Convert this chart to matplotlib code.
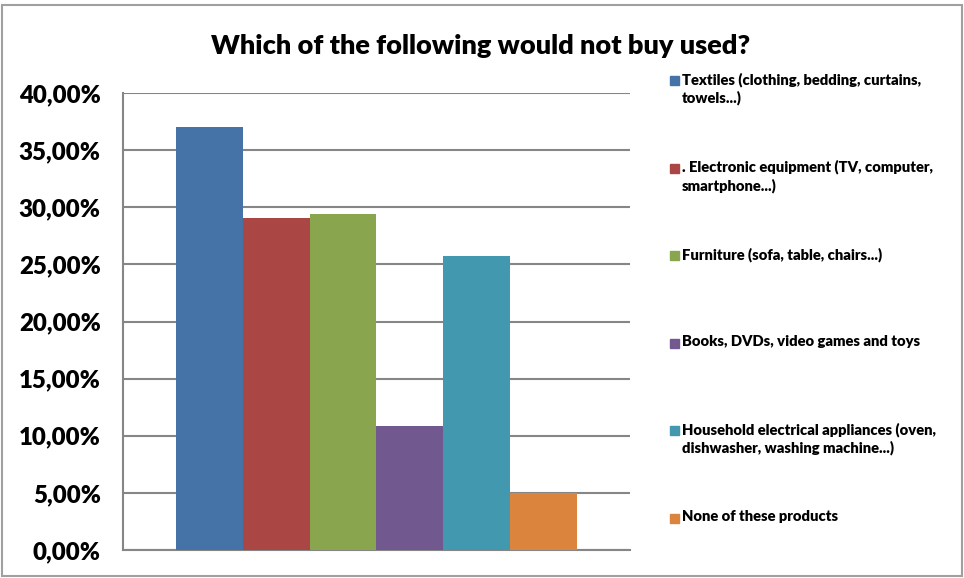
import matplotlib
matplotlib.use("Agg")
import matplotlib.pyplot as plt
from matplotlib.patches import Rectangle
from matplotlib.ticker import FuncFormatter

# data
categories = [
    "Textiles (clothing, bedding, curtains,\ntowels...)",
    ". Electronic equipment (TV, computer,\nsmartphone...)",
    "Furniture (sofa, table, chairs...)",
    "Books, DVDs, video games and toys",
    "Household electrical appliances (oven,\ndishwasher, washing machine...)",
    "None of these products",
]
values = [37.0, 29.1, 29.4, 10.9, 25.7, 5.0]
colors = ["#4572A7", "#AA4643", "#89A54E", "#71588F", "#4198AF", "#DB843D"]
y_ticks = [0, 5, 10, 15, 20, 25, 30, 35, 40]

WEIGHT = "heavy"
plt.rcParams["font.family"] = ["Lato", "DejaVu Sans"]
plt.rcParams["font.weight"] = WEIGHT

fig = plt.figure(figsize=(9.64, 5.78), dpi=100)
ax = fig.add_axes([0.1276, 0.0484, 0.5259, 0.7906])

# bars sit side by side around the centre of a single category slot
bar_w = 0.132
start = 0.5 - bar_w * len(values) / 2
for i, (v, c) in enumerate(zip(values, colors)):
    ax.bar(start + bar_w * (i + 0.5), v, width=bar_w, color=c, zorder=3)

ax.set_xlim(0, 1)
ax.set_ylim(0, 40)
ax.set_yticks(y_ticks)
ax.yaxis.set_major_formatter(FuncFormatter(lambda v, _: f"{v:.2f}%".replace(".", ",")))
ax.set_xticks([])
ax.tick_params(axis="y", length=0, pad=16, labelsize=17.3)
for lbl in ax.get_yticklabels():
    lbl.set_fontweight(WEIGHT)
ax.grid(axis="y", color="#868686", linewidth=1.5, zorder=0)
ax.spines["top"].set_visible(False)
ax.spines["right"].set_visible(False)
for s in ("left", "bottom"):
    ax.spines[s].set_color("#868686")
    ax.spines[s].set_linewidth(1.5)

fig.text(0.499, 0.921, "Which of the following would not buy used?",
         ha="center", va="center", fontsize=19.5, fontweight=WEIGHT)

# legend drawn by hand so the square lines up with the first text line
leg_top = 1 - 80.7 / 578
leg_step = 87.5 / 578
for i, (lab, c) in enumerate(zip(categories, colors)):
    y = leg_top - i * leg_step
    fig.patches.append(Rectangle((670 / 964, y - 4.5 / 578), 9 / 964, 9 / 578,
                                 transform=fig.transFigure, color=c))
    fig.text(682 / 964, y + 8.5 / 578, lab, ha="left", va="top", fontsize=10.6,
             fontweight=WEIGHT, linespacing=1.3)

# outer chart border
fig.patches.append(Rectangle((2 / 964, 2 / 578), 960 / 964, 571 / 578,
                             transform=fig.transFigure, fill=False,
                             edgecolor="#a0a0a0", linewidth=1.5))

fig.savefig("out.png", dpi=100)
